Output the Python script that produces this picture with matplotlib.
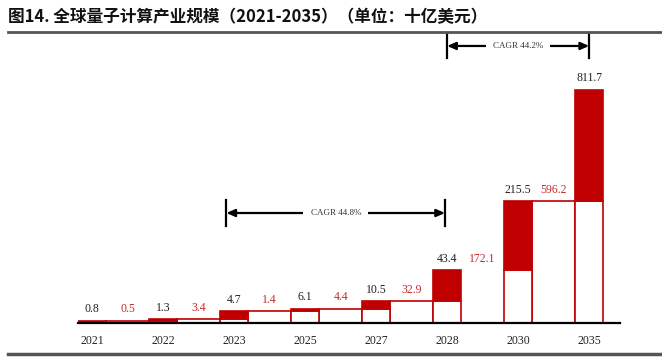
import numpy as np
import matplotlib
matplotlib.use("Agg")
import matplotlib.pyplot as plt
from matplotlib import transforms

# data
years = ["2021", "2022", "2023", "2025", "2027", "2028", "2030", "2035"]
totals = [0.8, 1.3, 4.7, 6.1, 10.5, 43.4, 215.5, 811.7]
increments = [0.5, 3.4, 1.4, 4.4, 32.9, 172.1, 596.2]
cagr_labels = ["CAGR 44.8%", "CAGR 44.2%"]
title = "图14. 全球量子计算产业规模（2021-2035）（单位：十亿美元）"

red = "#c00000"
inc_red = "#c8282e"
show_base = [True, True, True, True, True, False, True]

# compressed y scale (the original chart is not drawn linearly)
c, p = 8.0, 0.52
_grid = np.concatenate([[0], np.logspace(-4, 4, 4000)])

def fwd(v):
    v = np.maximum(np.asarray(v, dtype=float), 0)
    return v / (v + c) ** p

def inv(y):
    return np.interp(np.asarray(y, dtype=float), fwd(_grid), _grid)

fig = plt.figure(figsize=(6.62, 3.59), dpi=100)
ax = fig.add_axes([78 / 662, 36 / 359, 542 / 662, 291 / 359])
ax.set_yscale("function", functions=(fwd, inv))

xt = np.arange(len(totals)) * 2
xi = np.arange(len(increments)) * 2 + 1
totals_a = np.array(totals)
prev = np.concatenate([[0], totals_a[:-1]])

# total bars: white part = previous total, red part = growth
ax.bar(xt, prev, width=0.8, color="white", edgecolor=red, linewidth=1.2, zorder=2)
ax.bar(xt, totals_a - prev, bottom=prev, width=0.8, color=red, edgecolor=red,
       linewidth=1.2, zorder=2)

# in-between bars (height of previous total)
for x, h, show in zip(xi, totals_a[:-1], show_base):
    if show:
        ax.bar(x, h, width=1.2, color="white", edgecolor=red, linewidth=1.2, zorder=1)

serif = ["Liberation Serif", "DejaVu Serif"]
for x, v in zip(xt, totals):
    ax.annotate(f"{v}", (x, v), xytext=(0, 4), textcoords="offset points",
                ha="center", va="bottom", fontsize=8.5, color="#222222", family=serif)
for x, v, base in zip(xi, increments, totals_a[:-1]):
    ax.annotate(f"{v}", (x, base), xytext=(0, 4), textcoords="offset points",
                ha="center", va="bottom", fontsize=8.5, color=inc_red, family=serif)

ax.set_xlim(-0.4, 14.87)
top_units = fwd(811.7) * 291 / 233
ax.set_ylim(0, float(inv(top_units)))

ax.set_xticks(xt)
ax.set_xticklabels(years, family=serif, fontsize=8.5, color="#222222")
ax.tick_params(axis="x", length=0, pad=9)
ax.set_yticks([])
ax.minorticks_off()
for s in ["left", "right", "top"]:
    ax.spines[s].set_visible(False)
ax.spines["bottom"].set_linewidth(1.6)
ax.spines["bottom"].set_color("black")
ax.spines["bottom"].set_zorder(3)

# CAGR brackets
trans = transforms.blended_transform_factory(ax.transData, ax.transAxes)
brackets = [(3.78, 9.94, 0.333, 0.423, 0.378), (10.0, 14.0, 0.911, 0.997, 0.952)]
for (x0, x1, yb, yt, ya), lab in zip(brackets, cagr_labels):
    for xx in (x0, x1):
        ax.plot([xx, xx], [yb, yt], color="black", lw=1.6, transform=trans,
                clip_on=False)
    ax.annotate("", xy=(x0, ya), xytext=(x1, ya), xycoords=trans, textcoords=trans,
                arrowprops=dict(arrowstyle="<|-|>,head_length=0.5,head_width=0.22",
                                color="black", lw=1.6, shrinkA=0, shrinkB=0))
    ax.text((x0 + x1) / 2, ya, lab, transform=trans, ha="center", va="center",
            fontsize=6.5, color="#333333", family=serif,
            bbox=dict(boxstyle="square,pad=0.8", fc="white", ec="none"))

# header / footer lines and title
fig.add_artist(plt.Line2D([8 / 662, 1], [1 - 32 / 359] * 2, color="#555555", lw=2))
fig.add_artist(plt.Line2D([8 / 662, 1], [1 - 354 / 359] * 2, color="#555555", lw=2.5))
fig.text(8 / 662, 1 - 17 / 359, title, ha="left", va="center", fontsize=12,
         fontweight="bold", family=["Noto Sans CJK SC", "DejaVu Sans"], color="#111111")

fig.savefig("out.png", dpi=100)
